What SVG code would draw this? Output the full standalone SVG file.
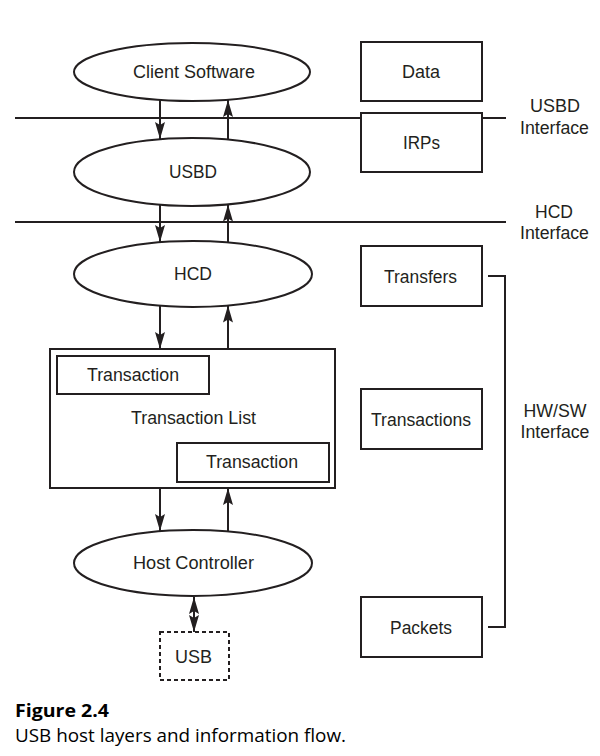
<svg xmlns="http://www.w3.org/2000/svg" width="600" height="756" viewBox="0 0 600 756">
<style>
  .shape { fill: #fff; stroke: #231f20; stroke-width: 2; }
  .line { fill: none; stroke: #231f20; stroke-width: 2; }
  .lbl { font-family: "Liberation Sans", Arial, Helvetica, sans-serif; font-size: 17.5px; fill: #231f20; text-anchor: middle; }
  .cap { font-family: "Liberation Sans Narrow", "Open Sans", sans-serif; font-size: 18.5px; fill: #000; }
</style>
<defs>
  <marker id="ah" viewBox="0 0 17 10" refX="17" refY="5" markerWidth="17" markerHeight="10" markerUnits="userSpaceOnUse" orient="auto-start-reverse">
    <path d="M0,0 L17,5 L0,10 L3,5 Z" fill="#231f20"/>
  </marker>
</defs>
<rect width="600" height="756" fill="#fff"/>

<g id="interfaces">
  <line class="line" x1="15" y1="118" x2="506" y2="118"/>
  <line class="line" x1="15" y1="222" x2="506" y2="222"/>
  <text class="lbl" x="555" y="112" textLength="50" lengthAdjust="spacingAndGlyphs">USBD</text>
  <text class="lbl" x="554.5" y="134" textLength="69" lengthAdjust="spacingAndGlyphs">Interface</text>
  <text class="lbl" x="554" y="218" textLength="38" lengthAdjust="spacingAndGlyphs">HCD</text>
  <text class="lbl" x="554.5" y="239" textLength="69" lengthAdjust="spacingAndGlyphs">Interface</text>
  <text class="lbl" x="555" y="417" textLength="63" lengthAdjust="spacingAndGlyphs">HW/SW</text>
  <text class="lbl" x="555" y="438" textLength="69" lengthAdjust="spacingAndGlyphs">Interface</text>
  <path class="line" d="M488,276 H505 V627 H488"/>
</g>

<g id="connectors">
  <line class="line" x1="160" y1="100" x2="160" y2="139" marker-end="url(#ah)"/>
  <line class="line" x1="228" y1="139.5" x2="228" y2="100" marker-end="url(#ah)"/>
  <line class="line" x1="160" y1="204.5" x2="160" y2="242" marker-end="url(#ah)"/>
  <line class="line" x1="228" y1="242.5" x2="228" y2="204.5" marker-end="url(#ah)"/>
  <line class="line" x1="160" y1="305.5" x2="160" y2="349" marker-end="url(#ah)"/>
  <line class="line" x1="228" y1="349" x2="228" y2="305.5" marker-end="url(#ah)"/>
  <line class="line" x1="160" y1="488" x2="160" y2="531" marker-end="url(#ah)"/>
  <line class="line" x1="228" y1="531.5" x2="228" y2="488" marker-end="url(#ah)"/>
  <line class="line" x1="194" y1="597" x2="194" y2="632" marker-start="url(#ah)" marker-end="url(#ah)"/>
</g>

<g id="client-software">
  <ellipse class="shape" cx="192" cy="72" rx="118" ry="29"/>
  <text class="lbl" x="194" y="78" textLength="122" lengthAdjust="spacingAndGlyphs">Client Software</text>
</g>
<g id="usbd">
  <ellipse class="shape" cx="192" cy="172" rx="118" ry="34"/>
  <text class="lbl" x="193" y="178" textLength="48" lengthAdjust="spacingAndGlyphs">USBD</text>
</g>
<g id="hcd">
  <ellipse class="shape" cx="193" cy="274" rx="119" ry="33"/>
  <text class="lbl" x="193" y="280" textLength="38" lengthAdjust="spacingAndGlyphs">HCD</text>
</g>
<g id="transaction-list">
  <rect class="shape" x="50" y="349" width="285" height="139"/>
  <text class="lbl" x="193.5" y="424" textLength="125" lengthAdjust="spacingAndGlyphs">Transaction List</text>
</g>
<g id="transaction-1">
  <rect class="shape" x="57" y="356" width="152" height="38"/>
  <text class="lbl" x="133" y="381" textLength="92" lengthAdjust="spacingAndGlyphs">Transaction</text>
</g>
<g id="transaction-2">
  <rect class="shape" x="177" y="443" width="152" height="39"/>
  <text class="lbl" x="252" y="468" textLength="92" lengthAdjust="spacingAndGlyphs">Transaction</text>
</g>
<g id="host-controller">
  <ellipse class="shape" cx="193" cy="563" rx="119" ry="33"/>
  <text class="lbl" x="193.5" y="569" textLength="121" lengthAdjust="spacingAndGlyphs">Host Controller</text>
</g>
<g id="usb">
  <rect class="shape" x="160" y="632" width="69" height="48" stroke-dasharray="4,3"/>
  <text class="lbl" x="193.5" y="663" textLength="37" lengthAdjust="spacingAndGlyphs">USB</text>
</g>

<g id="data">
  <rect class="shape" x="361" y="42" width="121" height="59"/>
  <text class="lbl" x="421" y="78" textLength="38" lengthAdjust="spacingAndGlyphs">Data</text>
</g>
<g id="irps">
  <rect class="shape" x="361" y="113" width="121" height="59"/>
  <text class="lbl" x="421.5" y="149" textLength="37" lengthAdjust="spacingAndGlyphs">IRPs</text>
</g>
<g id="transfers">
  <rect class="shape" x="361" y="246" width="121" height="60"/>
  <text class="lbl" x="420.5" y="283" textLength="73" lengthAdjust="spacingAndGlyphs">Transfers</text>
</g>
<g id="transactions">
  <rect class="shape" x="361" y="389" width="121" height="60"/>
  <text class="lbl" x="421" y="426" textLength="100" lengthAdjust="spacingAndGlyphs">Transactions</text>
</g>
<g id="packets">
  <rect class="shape" x="361" y="597" width="121" height="60"/>
  <text class="lbl" x="421" y="634" textLength="62" lengthAdjust="spacingAndGlyphs">Packets</text>
</g>

<g id="caption">
  <text class="cap" x="15" y="717" font-weight="bold" textLength="94" lengthAdjust="spacingAndGlyphs">Figure 2.4</text>
  <text class="cap" x="15" y="742" textLength="331" lengthAdjust="spacingAndGlyphs">USB host layers and information flow.</text>
</g>
</svg>
